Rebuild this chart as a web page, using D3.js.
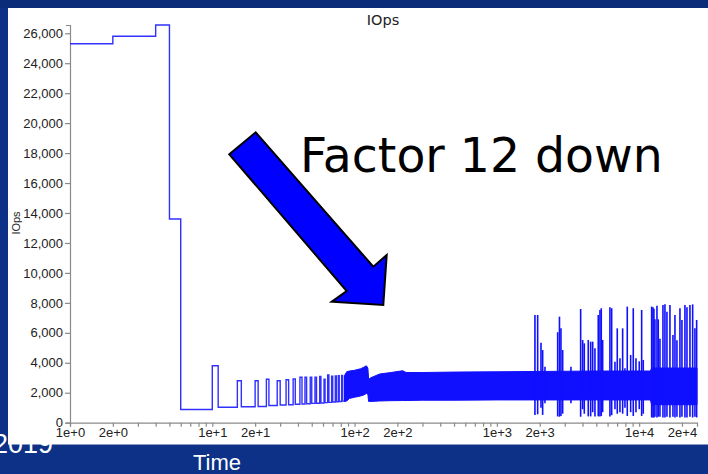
<!DOCTYPE html>
<html><head><meta charset="utf-8">
<script src="https://cdn.jsdelivr.net/npm/d3@7"></script>
<style>
html,body{margin:0;padding:0;background:#0c3187;}
svg{display:block}
</style></head><body>
<svg id="c" width="708" height="474"></svg>
<script>
// Early phase: stepped IOps readings (time in s, IOps)
const stepTime  = [1, 2, 4, 5, 6, 10, 11, 15, 16, 20, 21, 24, 25, 28.6, 30, 33, 34.4, 37, 38.3, 41.3, 42.7, 44.8, 46, 48.8, 50, 52.7, 54, 56.9, 58, 61, 62, 64.7, 66, 69, 70.2, 73.2, 74.4, 76.8, 78, 81.1, 82.3, 85];
const stepValue = [25300, 25800, 26550, 13600, 880, 3800, 1030, 2800, 1060, 2800, 1080, 2900, 1150, 2800, 1180, 2870, 1200, 2920, 1230, 3030, 1250, 3030, 1270, 3030, 1290, 3030, 1300, 3080, 1320, 2900, 1340, 3190, 1360, 3100, 1380, 3120, 1400, 3140, 1420, 3150, 1440, 3150];

// Dense phase: envelope of the fast oscillation
const bandTime = [85, 88, 92, 100, 110, 116, 121, 124, 125.5, 130, 150, 180, 218, 230, 300, 500, 1000, 1850, 5000, 12000, 12240, 25500];
const bandHigh = [3150, 3400, 3450, 3500, 3600, 3700, 3800, 3650, 2900, 3000, 3250, 3350, 3470, 3350, 3350, 3380, 3400, 3420, 3450, 3450, 3650, 3650];
const bandLow  = [1420, 1450, 1620, 1700, 1780, 1850, 1950, 1900, 1420, 1420, 1450, 1470, 1480, 1480, 1500, 1500, 1520, 1520, 1520, 1520, 1200, 1200];

// Isolated bursts in the late phase
const spikeTime = [1852, 1935, 2042, 2098, 2178, 2675, 2754, 2821, 2900, 3317, 3880, 4009, 4115, 4388, 4563, 4714, 4890, 5159, 5303, 5416, 5540, 6232, 6410, 6761, 7017, 7330, 7656, 7947, 8250, 8716, 9091, 9495, 10016, 10413, 10687, 12240, 12500, 12700, 12912, 13340, 13622, 14004, 14700, 15180, 15680, 16460, 17280, 17850, 18430, 19350, 19990, 20980, 21680, 22750, 23770, 24660, 25350];
const spikeHigh = [7190, 7190, 5340, 4850, 3740, 6040, 7080, 6300, 4850, 3740, 7590, 5520, 5300, 5520, 5410, 5410, 4970, 7190, 7525, 7640, 5520, 7700, 7640, 4075, 6300, 4300, 6300, 3630, 7750, 4520, 7640, 4300, 4100, 7525, 4190, 7750, 7700, 7600, 6900, 7800, 6900, 5600, 7860, 7900, 7400, 7860, 5860, 7190, 5500, 7640, 6860, 7860, 7700, 7860, 7900, 6300, 6860];
const spikeLow  = [520, 560, 1000, 520, 1300, 420, 400, 450, 600, 1300, 400, 900, 600, 420, 420, 700, 420, 420, 420, 450, 700, 420, 500, 900, 600, 700, 600, 1000, 450, 700, 450, 700, 900, 450, 600, 350, 350, 350, 400, 350, 400, 400, 350, 350, 400, 350, 400, 350, 400, 350, 400, 350, 350, 400, 350, 400, 350];

const yTicks = [0, 2000, 4000, 6000, 8000, 10000, 12000, 14000, 16000, 18000, 20000, 22000, 24000, 26000];
const xDecades = [1, 10, 100, 1000, 10000];

const svg = d3.select('#c');

// slide background and footer
svg.append('rect').attr('width', 708).attr('height', 474).attr('fill', '#0c3187');
svg.append('rect').attr('width', 708).attr('height', 8).attr('fill', '#0b2c78');
svg.append('text').attr('x', 53).attr('y', 453).attr('text-anchor', 'end')
  .attr('font-family', 'Liberation Sans, Arial, sans-serif').attr('font-size', 27)
  .attr('fill', '#fff').text('2019');
svg.append('text').attr('x', 193).attr('y', 470)
  .attr('font-family', 'Liberation Sans, Arial, sans-serif').attr('font-size', 22)
  .attr('fill', '#fff').text('Time');

// chart panel
svg.append('rect').attr('x', 8).attr('y', 8).attr('width', 700).attr('height', 436.5).attr('fill', '#fff');

const x = d3.scaleLog().domain([1, 25500]).range([70, 697]);
const y = d3.scaleLinear().domain([0, 26550]).range([422.7, 25]);

const font = 'Liberation Sans, Arial, sans-serif';

// y axis
const yAxis = svg.append('g').attr('transform', 'translate(70,0)')
  .call(d3.axisLeft(y).tickValues(yTicks).tickFormat(d3.format(',')).tickSize(5).tickSizeOuter(4).tickPadding(2));
// x axis: minor ticks every unit of each decade, labels on 1 and 2
const xTickVals = [];
xDecades.forEach(d => { for (let m = 1; m <= 9; m++) { const v = d * m; if (v <= 25500) xTickVals.push(v); } });
const xFmt = d => {
  const e = Math.floor(Math.log10(d) + 1e-9);
  const m = Math.round(d / Math.pow(10, e));
  return (m === 1 || m === 2) ? m + 'e+' + e : '';
};
const xAxis = svg.append('g').attr('transform', 'translate(0,422.7)')
  .call(d3.axisBottom(x).tickValues(xTickVals).tickFormat(xFmt).tickSize(4).tickSizeOuter(4).tickPadding(1));

[yAxis, xAxis].forEach(g => {
  g.selectAll('path,line').attr('stroke', '#8a8a8a').attr('stroke-width', 1.2);
  g.selectAll('text').attr('font-family', font).attr('font-size', 13).attr('fill', '#222');
});

// title and y label
svg.append('text').attr('x', 383).attr('y', 25).attr('text-anchor', 'middle')
  .attr('font-family', 'DejaVu Sans, Verdana, sans-serif').attr('font-size', 14.5)
  .attr('fill', '#222').text('IOps');
svg.append('text').attr('transform', 'translate(20,223) rotate(-90)').attr('text-anchor', 'middle')
  .attr('font-family', font).attr('font-size', 11).attr('fill', '#222').text('IOps');

// series
const blue = '#1010ff';
const stepData = stepTime.map((t, i) => [t, stepValue[i]]);
svg.append('path').datum(stepData)
  .attr('d', d3.line().x(d => x(d[0])).y(d => y(d[1])).curve(d3.curveStepAfter))
  .attr('fill', 'none').attr('stroke', '#3030ff').attr('stroke-width', 1.4);

const bandData = bandTime.map((t, i) => ({ t, hi: bandHigh[i], lo: bandLow[i] }));
svg.append('path').datum(bandData)
  .attr('d', d3.area().x(d => x(d.t)).y0(d => y(d.lo)).y1(d => y(d.hi)))
  .attr('fill', blue).attr('stroke', blue).attr('stroke-width', 1);

svg.append('g').selectAll('line').data(spikeTime).join('line')
  .attr('x1', d => x(d)).attr('x2', d => x(d))
  .attr('y1', (d, i) => y(spikeLow[i])).attr('y2', (d, i) => y(spikeHigh[i]))
  .attr('stroke', blue).attr('stroke-width', 1.6);

// annotation arrow
const arrowPts = [[229.3, 154.3], [255.7, 132.3], [373.3, 266.7], [386.7, 255], [383.3, 305], [331.7, 301.7], [346.7, 291]];
svg.append('path').attr('d', d3.line()(arrowPts) + 'Z')
  .attr('fill', '#0000ff').attr('stroke', '#000').attr('stroke-width', 2).attr('stroke-linejoin', 'miter');
svg.append('text').attr('x', 300).attr('y', 172)
  .attr('font-family', 'DejaVu Sans, Verdana, sans-serif').attr('font-size', 47.3)
  .attr('fill', '#000').text('Factor 12 down');
</script>
</body></html>
